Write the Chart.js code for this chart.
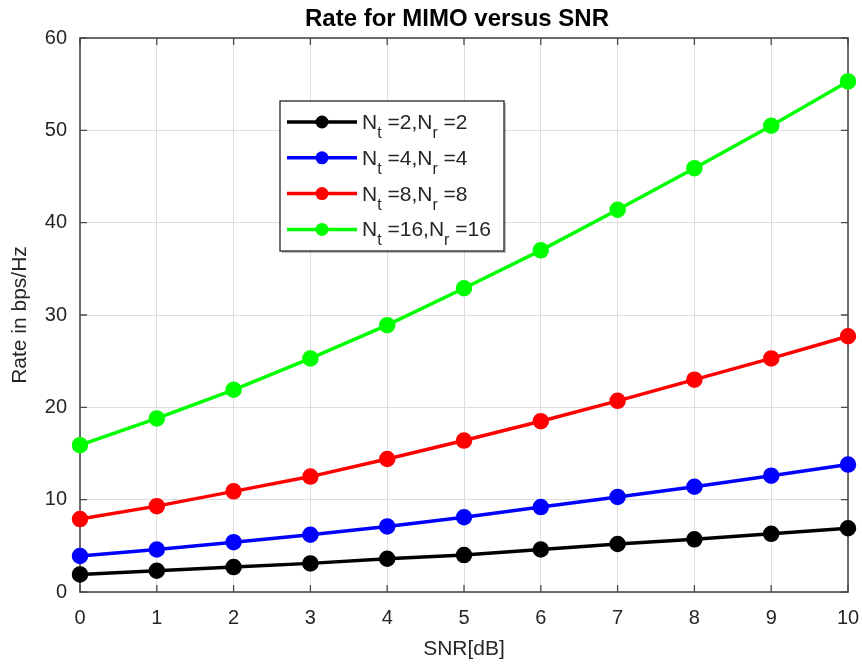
<!DOCTYPE html>
<html>
<head>
<meta charset="utf-8">
<script src="https://cdn.jsdelivr.net/npm/chart.js"></script>
<style>
  html, body { margin: 0; padding: 0; background: #ffffff; }
  #wrap { width: 862px; height: 665px; }
</style>
</head>
<body>
<div id="wrap"><canvas id="c" width="862" height="665"></canvas></div>
<script>
// ---- data ----
const snrDb = [0, 1, 2, 3, 4, 5, 6, 7, 8, 9, 10];
const rate2x2 = [1.9, 2.3, 2.7, 3.1, 3.6, 4.0, 4.6, 5.2, 5.7, 6.3, 6.9];
const rate4x4 = [3.9, 4.6, 5.4, 6.2, 7.1, 8.1, 9.2, 10.3, 11.4, 12.6, 13.8];
const rate8x8 = [7.9, 9.3, 10.9, 12.5, 14.4, 16.4, 18.5, 20.7, 23.0, 25.3, 27.7];
const rate16x16 = [15.9, 18.8, 21.9, 25.3, 28.9, 32.9, 37.0, 41.4, 45.9, 50.5, 55.3];
const seriesNames = [
  ['N', 't', ' =2,N', 'r', ' =2'],
  ['N', 't', ' =4,N', 'r', ' =4'],
  ['N', 't', ' =8,N', 'r', ' =8'],
  ['N', 't', ' =16,N', 'r', ' =16']
];
const seriesColors = ['#000000', '#0000ff', '#ff0000', '#00ff00'];
const xTicks = [0, 1, 2, 3, 4, 5, 6, 7, 8, 9, 10];
const yTicks = [0, 10, 20, 30, 40, 50, 60];
const titleText = 'Rate for MIMO versus SNR';
const xLabel = 'SNR[dB]';
const yLabel = 'Rate in bps/Hz';

const FONT = '"Liberation Sans", Arial, Helvetica, sans-serif';
const TXT = '#262626';

const allSeries = [rate2x2, rate4x4, rate8x8, rate16x16];
const datasets = allSeries.map((arr, i) => ({
  label: seriesNames[i].join(''),
  data: arr.map((v, k) => ({ x: snrDb[k], y: v })),
  borderColor: seriesColors[i],
  backgroundColor: seriesColors[i],
  pointBackgroundColor: seriesColors[i],
  pointBorderColor: seriesColors[i],
  borderWidth: 3.5,
  pointRadius: 6.5,
  pointHoverRadius: 6.5,
  tension: 0,
  clip: false
}));

const boxPlugin = {
  id: 'matlabBox',
  beforeDatasetsDraw(chart) {
    const { ctx, chartArea: a, scales } = chart;
    ctx.save();
    ctx.strokeStyle = '#4a4a4a';
    ctx.lineWidth = 1.6;
    ctx.strokeRect(a.left, a.top, a.right - a.left, a.bottom - a.top);
    ctx.lineWidth = 1.3;
    const tl = 7;
    xTicks.forEach(v => {
      const px = scales.x.getPixelForValue(v);
      ctx.beginPath();
      ctx.moveTo(px, a.bottom); ctx.lineTo(px, a.bottom - tl);
      ctx.moveTo(px, a.top); ctx.lineTo(px, a.top + tl);
      ctx.stroke();
    });
    yTicks.forEach(v => {
      const py = scales.y.getPixelForValue(v);
      ctx.beginPath();
      ctx.moveTo(a.left, py); ctx.lineTo(a.left + tl, py);
      ctx.moveTo(a.right, py); ctx.lineTo(a.right - tl, py);
      ctx.stroke();
    });
    ctx.restore();
  },
  afterDraw(chart) {
    const { ctx, chartArea: a } = chart;
    ctx.save();
    // title
    ctx.fillStyle = '#000000';
    ctx.font = 'bold 24px ' + FONT;
    ctx.textAlign = 'center';
    ctx.textBaseline = 'middle';
    ctx.fillText(titleText, (a.left + a.right) / 2 - 7, 19);

    // legend
    const lx = a.left + 200, ly = a.top + 63, lw = 224, lh = 150;
    ctx.fillStyle = 'rgba(0,0,0,0.25)';
    ctx.fillRect(lx + 2, ly + 2, lw, lh);
    ctx.fillStyle = '#ffffff';
    ctx.fillRect(lx, ly, lw, lh);
    ctx.strokeStyle = '#262626';
    ctx.lineWidth = 1.3;
    ctx.strokeRect(lx, ly, lw, lh);
    const rowY0 = ly + 21, rowDy = 35.8;
    seriesNames.forEach((parts, i) => {
      const y = rowY0 + i * rowDy;
      ctx.strokeStyle = seriesColors[i];
      ctx.lineWidth = 3.5;
      ctx.beginPath();
      ctx.moveTo(lx + 7, y); ctx.lineTo(lx + 77, y);
      ctx.stroke();
      ctx.fillStyle = seriesColors[i];
      ctx.beginPath();
      ctx.arc(lx + 42, y, 6.5, 0, Math.PI * 2);
      ctx.fill();
      ctx.fillStyle = TXT;
      ctx.textAlign = 'left';
      ctx.textBaseline = 'alphabetic';
      let x = lx + 82;
      const base = y + 7;
      parts.forEach((p, k) => {
        const sub = k % 2 === 1;
        ctx.font = (sub ? '16px ' : '21px ') + FONT;
        ctx.fillText(p, x, sub ? base + 9 : base);
        x += ctx.measureText(p).width;
      });
    });
    ctx.restore();
  }
};

new Chart(document.getElementById('c'), {
  type: 'line',
  data: { datasets },
  plugins: [boxPlugin],
  options: {
    responsive: false,
    animation: false,
    devicePixelRatio: 1,
    layout: { padding: { top: 38, right: 14, bottom: 0, left: 0 } },
    plugins: {
      legend: { display: false },
      title: { display: false },
      tooltip: { enabled: false }
    },
    scales: {
      x: {
        type: 'linear',
        min: 0, max: 10,
        afterBuildTicks(s) { s.ticks = xTicks.map(v => ({ value: v })); },
        afterFit(s) { s.height = 73; s.paddingLeft = 0; s.paddingRight = 0; },
        ticks: { color: TXT, font: { family: FONT, size: 20 }, padding: 14, maxRotation: 0, autoSkip: false },
        grid: { color: '#dedede', lineWidth: 1, drawTicks: false },
        border: { display: false },
        title: { display: true, text: xLabel, color: TXT, font: { family: FONT, size: 21 }, padding: { top: 0, bottom: 3 } }
      },
      y: {
        type: 'linear',
        min: 0, max: 60,
        afterBuildTicks(s) { s.ticks = yTicks.map(v => ({ value: v })); },
        afterFit(s) { s.width = 80; s.paddingTop = 0; s.paddingBottom = 0; },
        ticks: { color: TXT, font: { family: FONT, size: 20 }, padding: 13 },
        grid: { color: '#dedede', lineWidth: 1, drawTicks: false },
        border: { display: false },
        title: { display: true, text: yLabel, color: TXT, font: { family: FONT, size: 21 }, padding: { top: 8, bottom: 0 } }
      }
    }
  }
});
</script>
</body>
</html>
